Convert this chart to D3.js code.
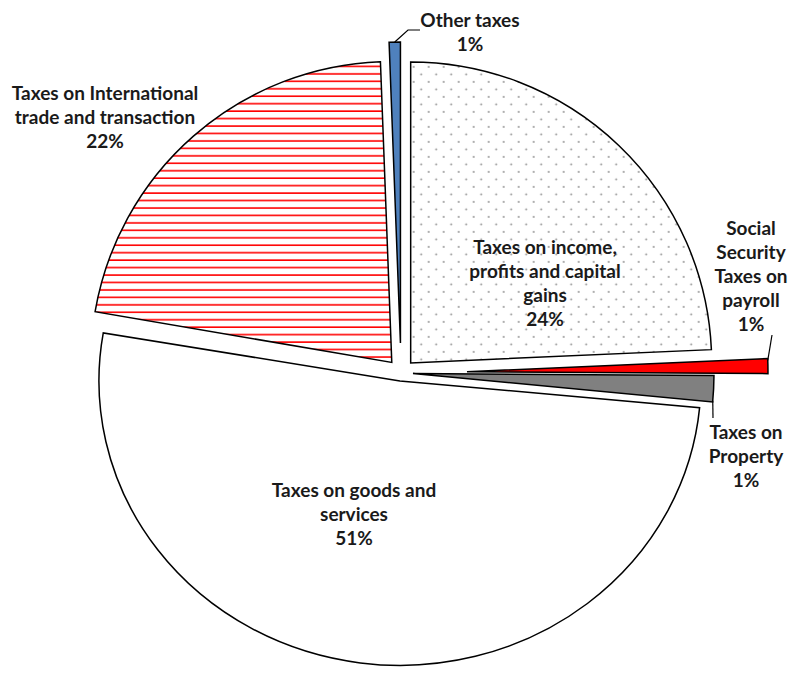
<!DOCTYPE html>
<html>
<head>
<meta charset="utf-8">
<script src="https://cdn.jsdelivr.net/npm/d3@7"></script>
<style>
  body { margin: 0; background: #fff; }
  text { font-family: Lato, "Open Sans", sans-serif; font-weight: bold; fill: #1a1a1a; }
</style>
</head>
<body>
<div class="draw-pie"></div>
<script>
// slices, clockwise from 12 o'clock
const categories = [
  "Taxes on income, profits and capital gains",
  "Social Security Taxes on payroll",
  "Taxes on Property",
  "Taxes on goods and services",
  "Taxes on International trade and transaction",
  "Other taxes"
];
const shares = [24.3, 0.8, 1.4, 51.2, 21.7, 0.6];
const labelLines = [
  ["Taxes on income,", "profits and capital", "gains"],
  ["Social", "Security", "Taxes on", "payroll"],
  ["Taxes on", "Property"],
  ["Taxes on goods and", "services"],
  ["Taxes on International", "trade and transaction"],
  ["Other taxes"]
];

const width = 790, height = 679;
const cx = 401, cy = 373, radius = 301;
// how far each slice is pulled out of the pie (px)
const explode = [14, 66, 12, 8, 14, 30];
// the picture is a touch flatter below the centre
const squash = [1, 1, 1, 0.945, 1, 1];
const fills = ["url(#dots)", "#ff0000", "#808080", "#ffffff", "url(#hatch)", "#4f81bd"];
// label block centre (x, y of first line)
const labelPos = [[545, 247], [751, 228], [746, 432], [354, 490], [105, 93], [470, 20]];
const lineH = 24;

const svg = d3.select(".draw-pie").append("svg")
  .attr("width", width).attr("height", height);

const defs = svg.append("defs");
const hatch = defs.append("pattern").attr("id", "hatch")
  .attr("patternUnits", "userSpaceOnUse").attr("width", 10).attr("height", 7.45);
hatch.append("rect").attr("width", 10).attr("height", 7.45).attr("fill", "#fff");
hatch.append("line").attr("x1", 0).attr("x2", 10).attr("y1", 2).attr("y2", 2)
  .attr("stroke", "#ff0000").attr("stroke-width", 1.6);

const dots = defs.append("pattern").attr("id", "dots")
  .attr("patternUnits", "userSpaceOnUse").attr("width", 15).attr("height", 15);
dots.append("rect").attr("width", 15).attr("height", 15).attr("fill", "#fff");
dots.append("circle").attr("cx", 3).attr("cy", 4).attr("r", 0.9).attr("fill", "#8a8a8a");
dots.append("circle").attr("cx", 10.5).attr("cy", 11.5).attr("r", 0.9).attr("fill", "#8a8a8a");

const pie = d3.pie().sort(null).value(d => d)(shares);
const arc = d3.arc().innerRadius(0).outerRadius(radius);

const g = svg.append("g").attr("transform", "translate(" + cx + "," + cy + ")");

function shift(d, i) {
  const a = (d.startAngle + d.endAngle) / 2;
  return [explode[i] * Math.sin(a), -explode[i] * Math.cos(a)];
}
// point on the outer edge of slice i at angle a, in page coords
function rim(i, a) {
  const s = shift(pie[i], i);
  return [cx + s[0] + radius * Math.sin(a), cy + s[1] - radius * Math.cos(a) * squash[i]];
}

g.selectAll("path.slice")
  .data(pie)
  .join("path")
  .attr("class", "slice")
  .attr("transform", (d, i) => "translate(" + shift(d, i) + ") scale(1," + squash[i] + ")")
  .attr("d", arc)
  .attr("fill", (d, i) => fills[i])
  .attr("stroke", "#000")
  .attr("stroke-width", 1.5)
  .attr("vector-effect", "non-scaling-stroke")
  .attr("stroke-linejoin", "miter");

// leader lines for the thin slices
const leaders = [
  [rim(5, (pie[5].startAngle + pie[5].endAngle) / 2), [408, 30], [420, 30]],
  [rim(1, pie[1].startAngle + 0.006), [772, 335]],
  [rim(2, pie[2].endAngle - 0.004), [713, 418]]
];
svg.selectAll("path.leader")
  .data(leaders)
  .join("path")
  .attr("class", "leader")
  .attr("d", d3.line())
  .attr("fill", "none")
  .attr("stroke", "#000")
  .attr("stroke-width", 1.2);

const fmt = d3.format(".0%");
const labels = svg.selectAll("text.lbl")
  .data(pie)
  .join("text")
  .attr("class", "lbl")
  .attr("text-anchor", "middle")
  .attr("font-size", 19);
labels.each(function (d, i) {
  const t = d3.select(this);
  const lines = labelLines[i].concat([fmt(d.value / 100)]);
  lines.forEach((ln, k) => {
    t.append("tspan")
      .attr("x", labelPos[i][0])
      .attr("y", labelPos[i][1] + k * lineH)
      .attr("dy", "0.35em")
      .text(ln);
  });
});
</script>
</body>
</html>
